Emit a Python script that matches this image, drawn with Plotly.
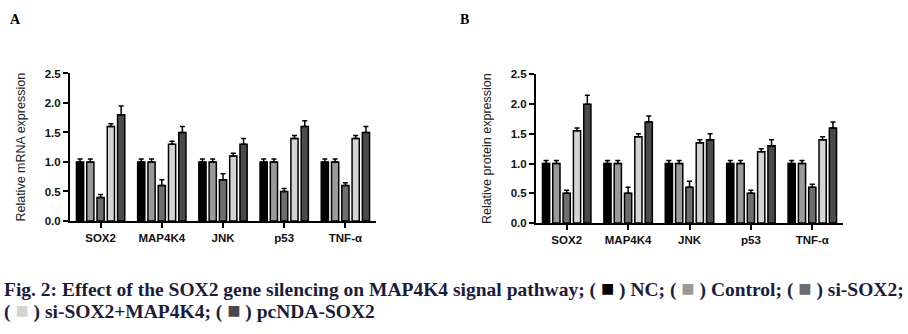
import plotly.graph_objects as go

genes = ["SOX2", "MAP4K4", "JNK", "p53", "TNF-α"]
groups = ["NC", "Control", "si-SOX2", "si-SOX2+MAP4K4", "pcNDA-SOX2"]
colors = ["#000000", "#9a9a9a", "#6e6e6e", "#d4d4d4", "#4a4a4a"]

mrna_vals = {
    "NC": [1.0, 1.0, 1.0, 1.0, 1.0],
    "Control": [1.0, 1.0, 1.0, 1.0, 1.0],
    "si-SOX2": [0.4, 0.6, 0.7, 0.5, 0.6],
    "si-SOX2+MAP4K4": [1.6, 1.3, 1.1, 1.4, 1.4],
    "pcNDA-SOX2": [1.8, 1.5, 1.3, 1.6, 1.5],
}
mrna_err = {
    "NC": [0.05, 0.05, 0.05, 0.05, 0.05],
    "Control": [0.05, 0.05, 0.05, 0.05, 0.05],
    "si-SOX2": [0.05, 0.1, 0.1, 0.05, 0.05],
    "si-SOX2+MAP4K4": [0.05, 0.05, 0.05, 0.05, 0.05],
    "pcNDA-SOX2": [0.15, 0.1, 0.1, 0.1, 0.1],
}
prot_vals = {
    "NC": [1.0, 1.0, 1.0, 1.0, 1.0],
    "Control": [1.0, 1.0, 1.0, 1.0, 1.0],
    "si-SOX2": [0.5, 0.5, 0.6, 0.5, 0.6],
    "si-SOX2+MAP4K4": [1.55, 1.45, 1.35, 1.2, 1.4],
    "pcNDA-SOX2": [2.0, 1.7, 1.4, 1.3, 1.6],
}
prot_err = {
    "NC": [0.05, 0.05, 0.05, 0.05, 0.05],
    "Control": [0.05, 0.05, 0.05, 0.05, 0.05],
    "si-SOX2": [0.05, 0.1, 0.1, 0.05, 0.05],
    "si-SOX2+MAP4K4": [0.05, 0.05, 0.05, 0.05, 0.05],
    "pcNDA-SOX2": [0.15, 0.1, 0.1, 0.1, 0.1],
}
y_ticks = [0.0, 0.5, 1.0, 1.5, 2.0, 2.5]
y_ticktext = ["0.0", "0.5", "1.0", "1.5", "2.0", "2.5"]

fig = go.Figure()
for vals, errs, xa, ya in [(mrna_vals, mrna_err, "x", "y"), (prot_vals, prot_err, "x2", "y2")]:
    for g, c in zip(groups, colors):
        fig.add_trace(go.Bar(
            x=genes, y=vals[g], name=g, xaxis=xa, yaxis=ya,
            marker=dict(color=c, line=dict(color="#000000", width=1.5)),
            error_y=dict(type="data", array=errs[g], arrayminus=[0] * len(genes),
                         symmetric=False, color="#000000", thickness=1.5, width=2.5),
            showlegend=False,
        ))

tickfont = dict(family="Liberation Sans, Arial", size=11.5, color="#111111", weight="bold")
axis_common = dict(showline=True, linecolor="#000000", linewidth=2, ticks="outside",
                   ticklen=5, tickwidth=2, tickcolor="#000000", showgrid=False,
                   zeroline=False, tickfont=tickfont)

fig.update_layout(
    width=908, height=334, margin=dict(l=0, r=0, t=0, b=0),
    paper_bgcolor="white", plot_bgcolor="white",
    barmode="group", bargap=0.16, bargroupgap=0.3,
    xaxis=dict(domain=[70 / 908, 376 / 908], anchor="y", **axis_common),
    yaxis=dict(domain=[1 - 223 / 334, 1 - 70 / 334], anchor="x", range=[0, 2.5],
               tickvals=y_ticks, ticktext=y_ticktext,
               title=dict(text="Relative mRNA expression", standoff=16,
                          font=dict(family="Liberation Sans, Arial", size=12.5, color="#222222")),
               **axis_common),
    xaxis2=dict(domain=[536 / 908, 843 / 908], anchor="y2", **axis_common),
    yaxis2=dict(domain=[1 - 225 / 334, 1 - 71 / 334], anchor="x2", range=[0, 2.5],
                tickvals=y_ticks, ticktext=y_ticktext,
                title=dict(text="Relative protein expression", standoff=16,
                           font=dict(family="Liberation Sans, Arial", size=12.5, color="#222222")),
                **axis_common),
)

serif = "Liberation Serif, Times New Roman, serif"
fig.add_annotation(text="<b>A</b>", xref="paper", yref="paper", x=8 / 908, y=1 - 14 / 334,
                   xanchor="left", yanchor="middle", showarrow=False,
                   font=dict(family=serif, size=14, color="#000000"))
fig.add_annotation(text="<b>B</b>", xref="paper", yref="paper", x=458 / 908, y=1 - 14 / 334,
                   xanchor="left", yanchor="middle", showarrow=False,
                   font=dict(family=serif, size=14, color="#000000"))


def box(c):
    return f'<span style="color:{c};font-size:22px">■</span>'


line1 = (f"Fig. 2: Effect of the SOX2 gene silencing on MAP4K4 signal pathway; ( {box(colors[0])} ) NC; "
         f"( {box(colors[1])} ) Control; ( {box(colors[2])} ) si-SOX2;")
line2 = f"( {box(colors[3])} ) si-SOX2+MAP4K4; ( {box(colors[4])} ) pcNDA-SOX2"
fig.add_annotation(text=f"<b>{line1}</b>", xref="paper", yref="paper", x=2 / 908, y=1 - 293 / 334,
                   xanchor="left", yanchor="middle", showarrow=False,
                   font=dict(family=serif, size=19.5, color="#1c1c3a"))
fig.add_annotation(text=f"<b>{line2}</b>", xref="paper", yref="paper", x=2 / 908, y=1 - 316 / 334,
                   xanchor="left", yanchor="middle", showarrow=False,
                   font=dict(family=serif, size=19.5, color="#1c1c3a"))

fig.write_html("out.html")
